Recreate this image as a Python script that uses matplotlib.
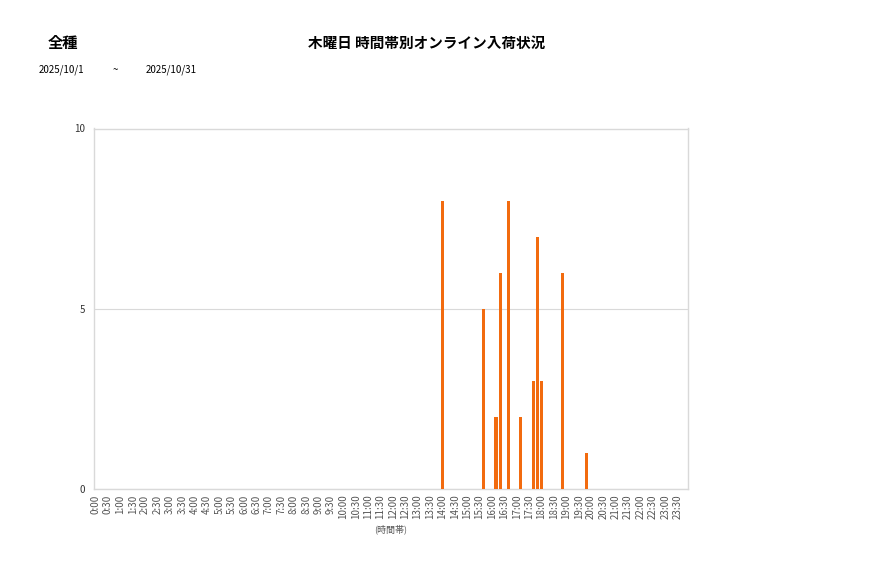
import matplotlib
matplotlib.use("Agg")
import matplotlib.pyplot as plt
import numpy as np

plt.rcParams['font.family'] = ['Noto Sans CJK JP', 'DejaVu Sans']

# 10-minute slots over the day
slot_labels = [f"{h}:{m:02d}" for h in range(24) for m in range(0, 60, 10)]
tick_labels = [f"{h}:{m:02d}" for h in range(24) for m in (0, 30)]

# non-zero counts
nonzero = {
    "14:00": 8,
    "15:40": 5,
    "16:10": 2,
    "16:20": 6,
    "16:40": 8,
    "17:10": 2,
    "17:40": 3,
    "17:50": 7,
    "18:00": 3,
    "18:50": 6,
    "19:50": 1,
}
values = [nonzero.get(s, 0) for s in slot_labels]

title = "木曜日 時間帯別オンライン入荷状況"
category = "全種"
date_from = "2025/10/1"
date_to = "2025/10/31"
xlabel = "(時間帯)"
yticks = [0, 5, 10]

fig = plt.figure(figsize=(8.77, 5.78), dpi=100)
ax = fig.add_axes([93.5/877, 1-489/578, (688-93.5)/877, (489-128.5)/578])

x = np.arange(len(slot_labels))
ax.bar(x, values, width=0.75, color="#F26B0F", zorder=3)

ax.set_xlim(-0.5, len(slot_labels) - 0.5)
ax.set_ylim(0, 10)
ax.set_yticks(yticks)
ax.set_yticklabels([str(v) for v in yticks], fontsize=7, color="#333333")
tick_pos = [slot_labels.index(t) for t in tick_labels]
ax.set_xticks(tick_pos)
ax.set_xticklabels(tick_labels, rotation=90, fontsize=7, color="#555555")
ax.tick_params(axis='both', length=0, pad=6)
ax.tick_params(axis='x', pad=4)

ax.grid(axis='y', color="#d9d9d9", linewidth=0.8, zorder=0)
for s in ax.spines.values():
    s.set_color("#d9d9d9")
    s.set_linewidth(1.0)

ax.set_xlabel(xlabel, fontsize=6.5, color="#555555", labelpad=4)

fig.text(63/877, 1-43/578, category, fontsize=11, fontweight='bold', ha='center', va='center')
fig.text(427/877, 1-43/578, title, fontsize=10.5, fontweight='bold', ha='center', va='center')
fig.text(39/877, 1-70/578, date_from, fontsize=7, ha='left', va='center')
fig.text(115/877, 1-70/578, "~", fontsize=7, ha='center', va='center')
fig.text(146/877, 1-70/578, date_to, fontsize=7, ha='left', va='center')

fig.savefig("out.png", dpi=100, facecolor="white")
